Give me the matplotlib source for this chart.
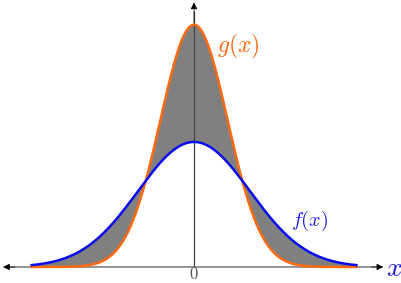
import numpy as np
import matplotlib.pyplot as plt

plt.rcParams['mathtext.fontset'] = 'cm'

# curve parameters (x in axis units, peak heights)
f_peak = 0.40
f_sigma = 1.0
g_peak = 0.775
g_sigma = 0.60
x_range = (-2.9, 2.9)

x = np.linspace(x_range[0], x_range[1], 400)
f = f_peak * np.exp(-x**2 / (2 * f_sigma**2))
g = g_peak * np.exp(-x**2 / (2 * g_sigma**2))

fig = plt.figure(figsize=(4.02, 2.83), dpi=100)
ax = fig.add_axes([0, 0, 1, 1])
ax.set_xlim(-3.464, 3.714)
ax.set_ylim(-0.0512, 0.854)
ax.axis('off')

ax.fill_between(x, f, g, color='#808080', lw=0)

# axes: gray lines, black arrow heads
ax.plot([-3.3, 3.28], [0, 0], color='#8c8c8c', lw=1.3, solid_capstyle='butt')
ax.plot([0, 0], [0, 0.82], color='#444444', lw=0.9, solid_capstyle='butt')
head = dict(arrowstyle='-|>', color='black', lw=0.5,
            mutation_scale=10, shrinkA=0, shrinkB=0)
ax.annotate('', xy=(-3.41, 0), xytext=(-3.2, 0), arrowprops=head)
ax.annotate('', xy=(3.38, 0), xytext=(3.17, 0), arrowprops=head)
ax.annotate('', xy=(0, 0.846), xytext=(0, 0.78), arrowprops=head)

ax.plot(x, g, color='#ff6a10', lw=1.8)
ax.plot(x, f, color='#0a0aee', lw=1.8)

ax.text(0.79, 0.704, r'$g(x)$', color='#ff6a10', fontsize=17, ha='center', va='center')
ax.text(2.07, 0.147, r'$f(x)$', color='#1a1ae6', fontsize=14.5, ha='center', va='center')
ax.text(3.58, -0.003, r'$x$', color='#1a1ae6', fontsize=20, ha='center', va='center')
ax.text(0, -0.0495, '0', family='cmr10', color='#555555', fontsize=12,
        ha='center', va='bottom')

fig.savefig('out.png', dpi=100)
